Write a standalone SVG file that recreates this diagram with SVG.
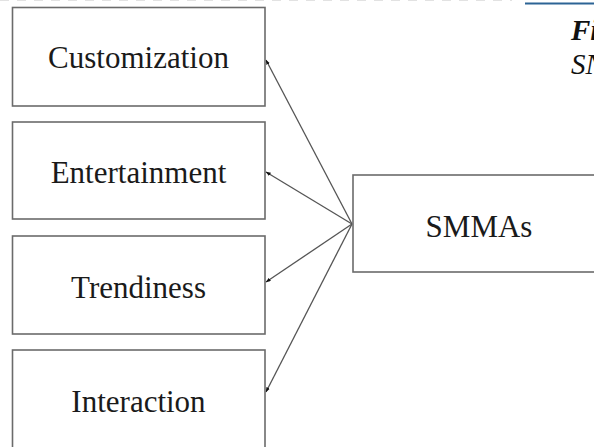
<svg xmlns="http://www.w3.org/2000/svg" width="594" height="447" viewBox="0 0 594 447">
<defs>
<style>
.box{fill:#fff;stroke:#6b6b6b;stroke-width:1.6}
.lbl{font-family:"Liberation Serif","Times New Roman",serif;font-size:31px;fill:#1a1a1a;text-anchor:middle}
.conn{stroke:#555;stroke-width:1.3;fill:none}
</style>
<marker id="ah" viewBox="0 0 8 6" refX="7.5" refY="3" markerWidth="5" markerHeight="4" orient="auto" markerUnits="userSpaceOnUse">
<path d="M0,0 L8,3 L0,6 Z" fill="#111"/>
</marker>
</defs>
<rect width="594" height="447" fill="#fff"/>
<line x1="0" y1="0.5" x2="512" y2="0.5" stroke="#e2e2e2" stroke-width="1.2" stroke-dasharray="9,8"/>
<line x1="525" y1="3.5" x2="594" y2="3.5" stroke="#2c6495" stroke-width="2"/>
<text x="571" y="40" font-family="Liberation Serif, serif" font-size="29" font-weight="bold" font-style="italic" fill="#111">Fi</text>
<text x="571" y="74" font-family="Liberation Serif, serif" font-size="29" font-style="italic" fill="#111">SN</text>
<g id="connectors">
<line class="conn" x1="352" y1="224" x2="266" y2="60" marker-end="url(#ah)"/>
<line class="conn" x1="352" y1="224" x2="266" y2="172" marker-end="url(#ah)"/>
<line class="conn" x1="352" y1="224" x2="266" y2="282" marker-end="url(#ah)"/>
<line class="conn" x1="352" y1="224" x2="266" y2="392" marker-end="url(#ah)"/>
</g>
<g id="customization"><rect class="box" x="12.5" y="7.5" width="252.5" height="98.5"/><text class="lbl" x="138.5" y="68">Customization</text></g>
<g id="entertainment"><rect class="box" x="12.5" y="122" width="252.5" height="97"/><text class="lbl" x="138.5" y="183">Entertainment</text></g>
<g id="trendiness"><rect class="box" x="12.5" y="236" width="252.5" height="98"/><text class="lbl" x="138.5" y="298">Trendiness</text></g>
<g id="interaction"><rect class="box" x="12.5" y="350" width="252.5" height="100"/><text class="lbl" x="138.5" y="412">Interaction</text></g>
<g id="smmas"><rect class="box" x="353" y="175" width="250" height="97"/><text class="lbl" x="479" y="237">SMMAs</text></g>
</svg>
